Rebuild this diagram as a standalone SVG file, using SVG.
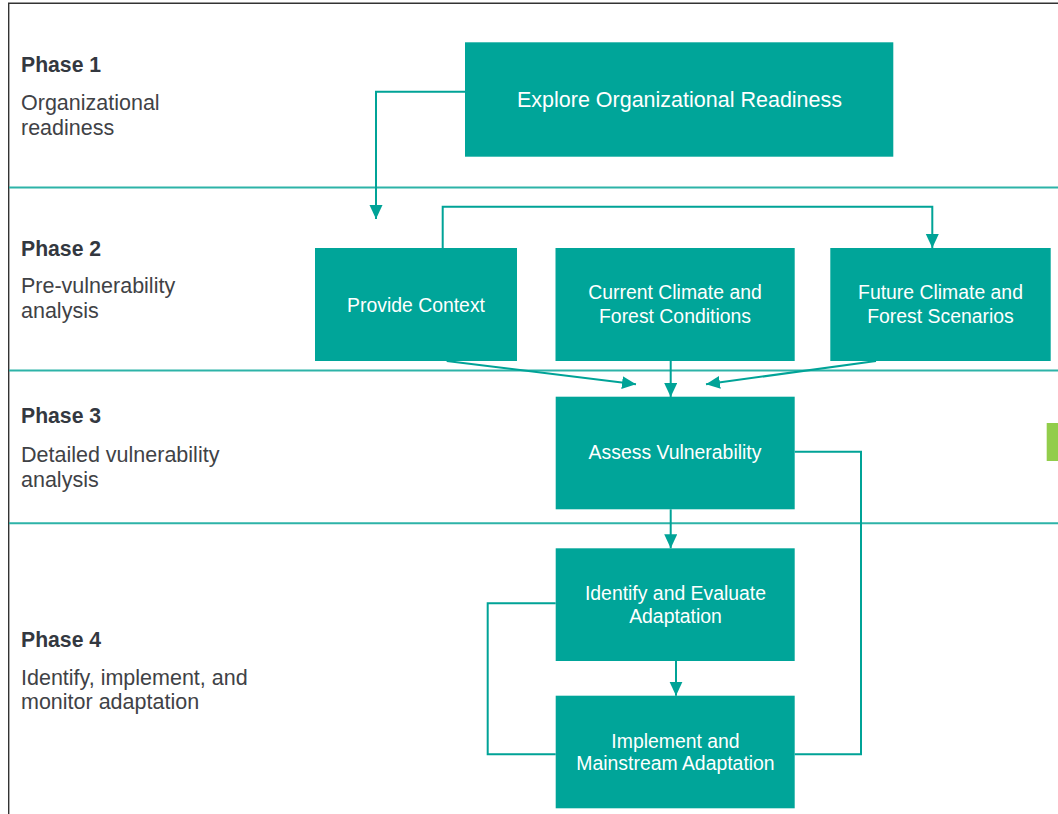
<svg xmlns="http://www.w3.org/2000/svg" width="1058" height="814" viewBox="0 0 1058 814">
<defs>
<marker id="arr" markerUnits="userSpaceOnUse" markerWidth="14" markerHeight="14" refX="14" refY="6.5" orient="auto">
<path d="M0,0 L14,6.5 L0,13 z" fill="#00A397"/>
</marker>
<style>
.box{fill:#00A599;}
.bt{font-family:"Liberation Sans",Arial,sans-serif;font-size:19.4px;fill:#FFFFFF;text-anchor:middle;}
.ph{font-family:"Liberation Sans",Arial,sans-serif;font-size:21.2px;font-weight:bold;fill:#333840;}
.pd{font-family:"Liberation Sans",Arial,sans-serif;font-size:21.5px;fill:#3f4246;}
.sep{stroke:#2DB3A8;stroke-width:2;fill:none;}
.con{stroke:#00A397;stroke-width:2;fill:none;}
.ar{marker-end:url(#arr);}
</style>
</defs>
<rect width="1058" height="814" fill="#FFFFFF"/>
<g id="frame">
<path d="M8.7,814 L8.7,3.3 L1058,3.3" stroke="#333" stroke-width="1.4" fill="none"/>
<line class="sep" x1="9" y1="187.5" x2="1058" y2="187.5"/>
<line class="sep" x1="9" y1="370.5" x2="1058" y2="370.5"/>
<line class="sep" x1="9" y1="523.3" x2="1058" y2="523.3"/>
<rect x="1046.7" y="423" width="11.3" height="38" fill="#92CD4B"/>
</g>
<g id="phase1">
<text class="ph" x="21" y="72">Phase 1</text>
<text class="pd" x="21" y="110">Organizational</text>
<text class="pd" x="21" y="134.5">readiness</text>
</g>
<g id="phase2">
<text class="ph" x="21" y="256">Phase 2</text>
<text class="pd" x="21" y="292.7">Pre-vulnerability</text>
<text class="pd" x="21" y="317.7">analysis</text>
</g>
<g id="phase3">
<text class="ph" x="21" y="423.3">Phase 3</text>
<text class="pd" x="21" y="461.7">Detailed vulnerability</text>
<text class="pd" x="21" y="486.7">analysis</text>
</g>
<g id="phase4">
<text class="ph" x="21" y="647.3">Phase 4</text>
<text class="pd" x="21" y="685">Identify, implement, and</text>
<text class="pd" x="21" y="708.5">monitor adaptation</text>
</g>
<g id="connectors">
<path class="con ar" d="M465,91.7 L376,91.7 L376,219"/>
<path class="con ar" d="M442.7,248 L442.7,206.7 L932.3,206.7 L932.3,248"/>
<path class="con ar" d="M446.7,361 L636,384.3"/>
<path class="con ar" d="M670.7,361 L670.7,397"/>
<path class="con ar" d="M876,361 L706,384.3"/>
<path class="con ar" d="M670.7,509.3 L670.7,548.3"/>
<path class="con ar" d="M676,661 L676,695.7"/>
<path class="con" d="M794.7,451.7 L861,451.7 L861,754.3 L794.7,754.3"/>
<path class="con" d="M555.7,603.3 L487.7,603.3 L487.7,754.3 L555.7,754.3"/>
</g>
<g id="explore">
<rect class="box" x="465" y="42.3" width="428.3" height="114.4"/>
<text class="bt" x="679.5" y="107.3" style="font-size:21.5px">Explore Organizational Readiness</text>
</g>
<g id="provide">
<rect class="box" x="315" y="248" width="202" height="113"/>
<text class="bt" x="416" y="311.7">Provide Context</text>
</g>
<g id="current">
<rect class="box" x="555.5" y="248" width="239.2" height="113"/>
<text class="bt" x="675" y="299.3">Current Climate and</text>
<text class="bt" x="675" y="322.7">Forest Conditions</text>
</g>
<g id="future">
<rect class="box" x="830.3" y="248" width="220.4" height="113"/>
<text class="bt" x="940.5" y="299.3">Future Climate and</text>
<text class="bt" x="940.5" y="322.7">Forest Scenarios</text>
</g>
<g id="assess">
<rect class="box" x="555.7" y="396.7" width="239" height="112.6"/>
<text class="bt" x="675" y="459.3">Assess Vulnerability</text>
</g>
<g id="identify">
<rect class="box" x="555.7" y="548.3" width="239" height="112.7"/>
<text class="bt" x="675.5" y="600">Identify and Evaluate</text>
<text class="bt" x="675.5" y="622.7">Adaptation</text>
</g>
<g id="implement">
<rect class="box" x="555.7" y="695.7" width="239" height="112.6"/>
<text class="bt" x="675.5" y="747.7">Implement and</text>
<text class="bt" x="675.5" y="770">Mainstream Adaptation</text>
</g>
</svg>
